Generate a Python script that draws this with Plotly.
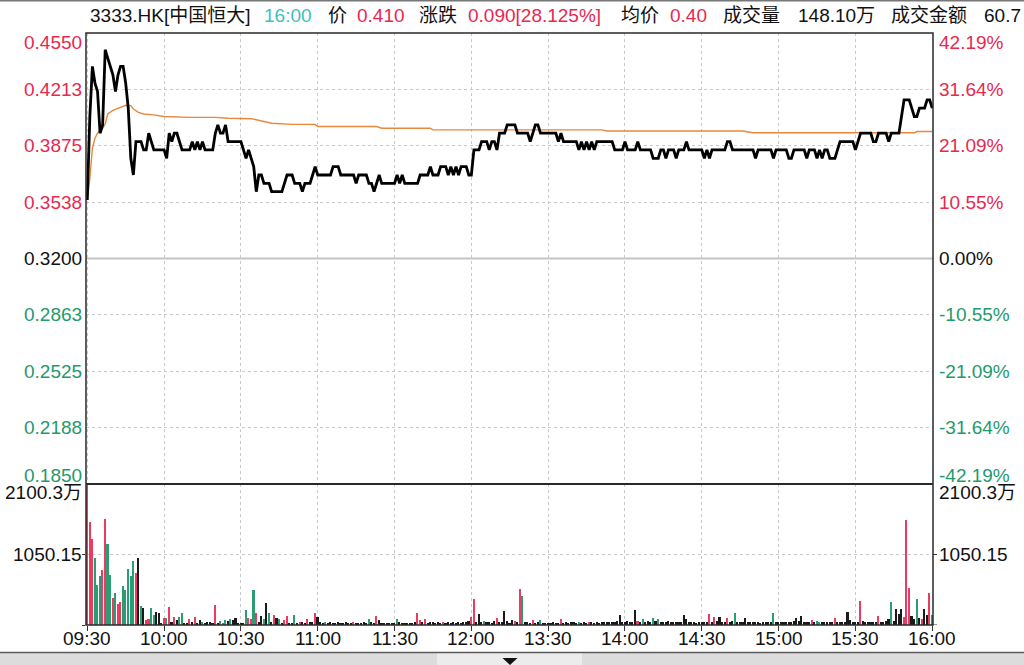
import plotly.graph_objects as go

# ---------------- data ----------------
time_labels = ["09:30", "10:00", "10:30", "11:00", "11:30", "12:00",
               "13:30", "14:00", "14:30", "15:00", "15:30", "16:00"]
tick_minutes = [0, 30, 60, 90, 120, 150, 180, 210, 240, 270, 300, 330]

prev_close = 0.32

# minute-by-minute last price (minute 0 = 09:30, lunch break collapsed)
price = [
    0.355, 0.405, 0.435, 0.425, 0.42, 0.395, 0.40, 0.445, 0.44, 0.435,
    0.43, 0.42, 0.43, 0.435, 0.435, 0.425, 0.41, 0.38, 0.37, 0.39,
    0.39, 0.39, 0.385, 0.385, 0.395, 0.39, 0.385, 0.385, 0.385, 0.385,
    0.385, 0.38, 0.395, 0.39, 0.395, 0.395, 0.39, 0.385, 0.385, 0.385,
    0.385, 0.39, 0.385, 0.39, 0.385, 0.39, 0.385, 0.385, 0.385, 0.385,
    0.395, 0.40, 0.395, 0.395, 0.40, 0.39, 0.39, 0.39, 0.39, 0.39,
    0.39, 0.385, 0.38, 0.385, 0.38, 0.375, 0.36, 0.37, 0.37, 0.365,
    0.365, 0.365, 0.36, 0.36, 0.36, 0.36, 0.36, 0.365, 0.37, 0.37,
    0.37, 0.365, 0.365, 0.365, 0.36, 0.365, 0.365, 0.365, 0.37, 0.375,
    0.37, 0.37, 0.37, 0.37, 0.37, 0.37, 0.375, 0.375, 0.375, 0.37,
    0.37, 0.37, 0.37, 0.37, 0.37, 0.365, 0.37, 0.37, 0.37, 0.37,
    0.365, 0.365, 0.36, 0.365, 0.37, 0.365, 0.365, 0.365, 0.365, 0.365,
    0.365, 0.37, 0.365, 0.37, 0.365, 0.365, 0.365, 0.365, 0.365, 0.365,
    0.37, 0.37, 0.37, 0.37, 0.375, 0.37, 0.37, 0.37, 0.375, 0.375,
    0.375, 0.37, 0.375, 0.37, 0.375, 0.37, 0.375, 0.375, 0.375, 0.37,
    0.37, 0.385, 0.385, 0.385, 0.39, 0.39, 0.39, 0.385, 0.39, 0.39,
    0.385, 0.395, 0.395, 0.395, 0.40, 0.40, 0.40, 0.40, 0.395, 0.395,
    0.395, 0.395, 0.395, 0.39, 0.395, 0.40, 0.40, 0.395, 0.395, 0.395,
    0.395, 0.395, 0.395, 0.395, 0.39, 0.395, 0.39, 0.39, 0.39, 0.39,
    0.39, 0.39, 0.385, 0.39, 0.385, 0.39, 0.385, 0.39, 0.385, 0.39,
    0.39, 0.39, 0.39, 0.39, 0.39, 0.39, 0.385, 0.385, 0.385, 0.385,
    0.39, 0.385, 0.385, 0.385, 0.385, 0.39, 0.385, 0.385, 0.385, 0.385,
    0.385, 0.38, 0.38, 0.38, 0.385, 0.385, 0.38, 0.385, 0.385, 0.385,
    0.38, 0.385, 0.385, 0.385, 0.39, 0.385, 0.385, 0.385, 0.385, 0.385,
    0.385, 0.38, 0.385, 0.38, 0.385, 0.385, 0.385, 0.385, 0.385, 0.385,
    0.39, 0.39, 0.385, 0.385, 0.385, 0.385, 0.385, 0.385, 0.385, 0.385,
    0.385, 0.38, 0.385, 0.385, 0.385, 0.385, 0.385, 0.385, 0.38, 0.385,
    0.385, 0.385, 0.385, 0.385, 0.38, 0.38, 0.385, 0.385, 0.385, 0.385,
    0.385, 0.38, 0.385, 0.385, 0.385, 0.38, 0.385, 0.38, 0.385, 0.385,
    0.38, 0.38, 0.38, 0.385, 0.39, 0.39, 0.39, 0.39, 0.39, 0.39,
    0.385, 0.39, 0.395, 0.395, 0.395, 0.395, 0.395, 0.39, 0.39, 0.395,
    0.395, 0.395, 0.395, 0.39, 0.395, 0.395, 0.395, 0.395, 0.405, 0.415,
    0.415, 0.415, 0.41, 0.405, 0.405, 0.41, 0.41, 0.41, 0.415, 0.415, 0.41,
]

# average price line (minute, value)
avg_minutes = [0, 1, 2, 3, 4, 5, 6, 7, 8, 10, 12, 15, 17, 18, 20, 22, 26, 30,
               40, 50, 55, 64, 72, 80, 89, 90, 113, 115, 134, 135, 201, 203,
               256, 260, 323, 324, 330]
avg_price = [0.355, 0.368, 0.386, 0.392, 0.395, 0.3965, 0.398, 0.4005, 0.4065,
             0.4087, 0.41, 0.4117, 0.4115, 0.4095, 0.4075, 0.4065, 0.406, 0.405,
             0.4045, 0.4045, 0.404, 0.4037, 0.401, 0.4003, 0.4003, 0.399, 0.399,
             0.398, 0.398, 0.397, 0.397, 0.3963, 0.3963, 0.3953, 0.3953, 0.396,
             0.396]

# per-minute volume (万)
volume = [
    2100, 1535, 1275, 1000, 600, 735, 825, 1585, 1200, 745, 395, 475, 310, 350, 585,
    525, 835, 735, 960, 775, 1000, 285, 260, 75, 95, 250, 150, 195, 185, 35,
    110, 110, 270, 50, 120, 70, 125, 185, 35, 35, 85, 50, 120, 35, 70,
    50, 35, 50, 50, 30, 300, 35, 60, 35, 70, 60, 90, 70, 110, 35,
    30, 30, 225, 100, 95, 525, 175, 50, 140, 85, 330, 185, 50, 150, 110,
    90, 35, 70, 130, 35, 35, 150, 35, 50, 40, 35, 85, 40, 50, 180,
    120, 40, 35, 50, 35, 40, 30, 35, 40, 35, 30, 40, 35, 30, 40,
    35, 30, 35, 40, 35, 95, 50, 35, 130, 70, 35, 30, 30, 30, 35,
    35, 85, 40, 35, 30, 35, 30, 35, 40, 180, 80, 40, 85, 35, 40,
    50, 35, 40, 35, 50, 35, 40, 35, 45, 35, 50, 35, 40, 40, 60,
    120, 390, 40, 160, 50, 60, 50, 50, 35, 55, 100, 45, 40, 210, 60,
    35, 70, 60, 40, 540, 435, 40, 50, 35, 70, 35, 40, 80, 35, 30,
    35, 30, 40, 35, 30, 90, 35, 40, 35, 50, 40, 35, 40, 35, 40,
    35, 50, 40, 35, 40, 35, 40, 50, 40, 50, 45, 50, 55, 150, 50,
    40, 60, 45, 40, 220, 60, 40, 90, 45, 60, 40, 110, 60, 85, 40,
    50, 45, 60, 40, 45, 40, 50, 40, 145, 85, 40, 40, 50, 35, 40,
    40, 50, 40, 170, 50, 120, 60, 120, 50, 40, 110, 40, 60, 180, 40,
    50, 40, 110, 40, 50, 40, 50, 40, 35, 40, 45, 40, 50, 180, 40,
    40, 45, 40, 50, 45, 40, 60, 100, 60, 130, 50, 40, 50, 70, 40,
    60, 50, 40, 45, 40, 50, 45, 105, 40, 45, 40, 50, 200, 70, 40,
    40, 40, 355, 60, 40, 45, 50, 40, 45, 135, 50, 45, 60, 90, 340,
    60, 245, 160, 245, 120, 1560, 545, 135, 90, 390, 110, 95, 245, 150, 475, 150,
]
# bar direction per minute: r = up, g = down, k = unchanged
vol_dir = ("rrrgggrrggrgrrgggggrkgkrrggkkk"
           "rgrkrkggkkrkrkkgkkkkrkgrgkgkkk"
           "kkgrrgrkkgkgkrkgkrrkkgkrkkrkkr"
           "kkkgkkkkkkkkkkrkkkkkgkkrkkkkkk"
           "kgkkkkkkkrrkrkkkkkkrkkkkkkkkkk"
           "rrkkkgkkkkrkkkkkkrkrgkkkrkkgkk"
           "kkkkkrkkkkkkgkkkrkkkkkkkkkkkkk"
           "kkkkkrkgkkkgkgkkkkkkkkkkkkkkkk"
           "kkkrkrkkkkrkkgkkkkkkkkkkkkkkgk"
           "kkkkkkkkkkkkkrkggkkkkkrkkkkkkk"
           "kkrkkkkkkrkkkkgkkkkrrrkkgkrkkrg")

price_levels = [0.455, 0.42125, 0.3875, 0.35375, 0.32, 0.28625, 0.2525, 0.21875, 0.185]
left_labels = ["0.4550", "0.4213", "0.3875", "0.3538", "0.3200", "0.2863", "0.2525", "0.2188", "0.1850"]
right_labels = ["42.19%", "31.64%", "21.09%", "10.55%", "0.00%", "-10.55%", "-21.09%", "-31.64%", "-42.19%"]
vol_levels = [2100.3, 1050.15]
vol_labels = ["2100.3万", "1050.15"]

header_texts = ["3333.HK[中国恒大]", "16:00", "价", "0.410", "涨跌", "0.090[28.125%]",
                "均价", "0.40", "成交量", "148.10万", "成交金额", "60.7"]
header_kind = ["k", "t", "k", "r", "k", "r", "k", "r", "k", "k", "k", "k"]

# ---------------- style ----------------
RED = "#e8284f"
GREEN = "#1f9a6c"
BLACK = "#111111"
TEAL = "#3fbfc0"
ORANGE = "#e8883c"
BAR_COL = {"r": "#ee3a62", "g": "#2a9d72", "k": "#1a1a1a"}
TXT_COL = {"r": RED, "g": GREEN, "k": BLACK, "t": TEAL}
FONT = "Liberation Sans, Arial, Noto Sans CJK SC, sans-serif"
FS = 19

W, H = 1024, 665
L, R, T, B = 86, 91, 33, 40
PW, PH = W - L - R, H - T - B
vol_top_px = 484
split = (H - B - vol_top_px) / PH


def xp(px):
    return (px - L) / PW


def yp(py):
    return (H - B - py) / PH


minutes = list(range(len(price)))

fig = go.Figure()
fig.add_trace(go.Scatter(x=avg_minutes, y=avg_price, mode="lines",
                         line=dict(color=ORANGE, width=1.4), xaxis="x", yaxis="y",
                         hoverinfo="skip"))
fig.add_trace(go.Scatter(x=minutes, y=price, mode="lines",
                         line=dict(color="black", width=2.8), xaxis="x", yaxis="y"))
fig.add_trace(go.Bar(x=list(range(len(volume))), y=volume,
                     marker=dict(color=[BAR_COL[c] for c in vol_dir], line=dict(width=0)),
                     width=0.62, xaxis="x2", yaxis="y2"))

grid = dict(showgrid=True, gridcolor="#c9c9c9", griddash="dot", gridwidth=1,
            zeroline=False, showline=False)

fig.update_layout(
    width=W, height=H, margin=dict(l=L, r=R, t=T, b=B, autoexpand=False),
    plot_bgcolor="white", paper_bgcolor="white", showlegend=False,
    font=dict(family=FONT, size=FS, color=BLACK),
    xaxis=dict(domain=[0, 1], range=[-0.5, 330.3], anchor="y",
               tickvals=tick_minutes, showticklabels=False, ticks="", **grid),
    yaxis=dict(domain=[split, 1], range=[price_levels[-1], price_levels[0]], anchor="x",
               tickvals=[v for v in price_levels if v != prev_close],
               showticklabels=False, ticks="", **grid),
    xaxis2=dict(domain=[0, 1], matches="x", anchor="y2", tickvals=tick_minutes,
                showticklabels=False, ticks="outside", ticklen=5, tickcolor="#333", **grid),
    yaxis2=dict(domain=[0, split], range=[0, vol_levels[0]], anchor="x2",
                tickvals=[0, vol_levels[1]], showticklabels=False, ticks="outside",
                ticklen=3, tickcolor="#333", **grid),
    bargap=0,
)

shapes = []
# previous close line
shapes.append(dict(type="line", xref="paper", x0=0, x1=1, yref="y", y0=prev_close, y1=prev_close,
                   line=dict(color="#c4c4c4", width=2.2), layer="below"))
# frame and separator
shapes.append(dict(type="rect", xref="paper", yref="paper", x0=0, x1=1, y0=0, y1=1,
                   line=dict(color="#2a2a2a", width=1.5)))
shapes.append(dict(type="line", xref="paper", yref="paper", x0=0, x1=1, y0=split, y1=split,
                   line=dict(color="#2a2a2a", width=1.8)))
# right side ticks on volume axis
for v in [0, vol_levels[1]]:
    shapes.append(dict(type="line", xref="paper", yref="y2", x0=1, x1=1 + 4 / PW, y0=v, y1=v,
                       line=dict(color="#333", width=1)))
# top status line
shapes.append(dict(type="rect", xref="paper", yref="paper", x0=xp(0), x1=xp(W),
                   y0=yp(1.5), y1=yp(0), line=dict(width=0), fillcolor="#777"))
# bottom tab bar
shapes.append(dict(type="rect", xref="paper", yref="paper", x0=xp(0), x1=xp(W),
                   y0=yp(H), y1=yp(653), line=dict(width=0), fillcolor="#dcdcdc"))
shapes.append(dict(type="rect", xref="paper", yref="paper", x0=xp(437), x1=xp(582),
                   y0=yp(H), y1=yp(653), line=dict(width=0), fillcolor="#ececec"))
shapes.append(dict(type="line", xref="paper", yref="paper", x0=xp(0), x1=xp(W),
                   y0=yp(652.5), y1=yp(652.5), line=dict(color="#5a5a5a", width=1.5)))
shapes.append(dict(type="path", xref="paper", yref="paper",
                   path=f"M {xp(502.5)},{yp(658)} L {xp(517.5)},{yp(658)} L {xp(510)},{yp(665)} Z",
                   fillcolor="#111", line=dict(width=0)))
fig.update_layout(shapes=shapes)

ann = []
n = len(price_levels)
for i, (v, lt, rt) in enumerate(zip(price_levels, left_labels, right_labels)):
    col = RED if v > prev_close else (BLACK if v == prev_close else GREEN)
    ys = -9 if i == 0 else (9 if i == n - 1 else 0)
    ann.append(dict(x=0, xref="paper", y=v, yref="y", text=lt, showarrow=False,
                    xanchor="right", yanchor="middle", xshift=-2, yshift=ys,
                    font=dict(color=col, size=FS, family=FONT)))
    ann.append(dict(x=1, xref="paper", y=v, yref="y", text=rt, showarrow=False,
                    xanchor="left", yanchor="middle", xshift=4, yshift=ys,
                    font=dict(color=col, size=FS, family=FONT)))
for i, (v, t) in enumerate(zip(vol_levels, vol_labels)):
    ys = -8 if i == 0 else 0
    ann.append(dict(x=0, xref="paper", y=v, yref="y2", text=t, showarrow=False,
                    xanchor="right", yanchor="middle", xshift=-2, yshift=ys,
                    font=dict(color=BLACK, size=FS, family=FONT)))
    ann.append(dict(x=1, xref="paper", y=v, yref="y2", text=t, showarrow=False,
                    xanchor="left", yanchor="middle", xshift=4, yshift=ys,
                    font=dict(color=BLACK, size=FS, family=FONT)))

# time axis labels
for m, t in zip(tick_minutes, time_labels):
    ann.append(dict(x=m, xref="x2", y=yp(638), yref="paper", text=t, showarrow=False,
                    xanchor="center", yanchor="middle",
                    font=dict(color=BLACK, size=FS, family=FONT)))

header_x = [88, 262, 326, 355, 417, 466, 619, 668, 721, 796, 889, 982]
for t, k, px in zip(header_texts, header_kind, header_x):
    ann.append(dict(x=xp(px), xref="paper", y=yp(16), yref="paper", text=t, showarrow=False,
                    xanchor="left", yanchor="middle",
                    font=dict(color=TXT_COL[k], size=FS, family=FONT)))
fig.update_layout(annotations=ann)

fig.write_html("out.html", config={"displayModeBar": False},
               post_script="document.body.style.margin='0px';")
